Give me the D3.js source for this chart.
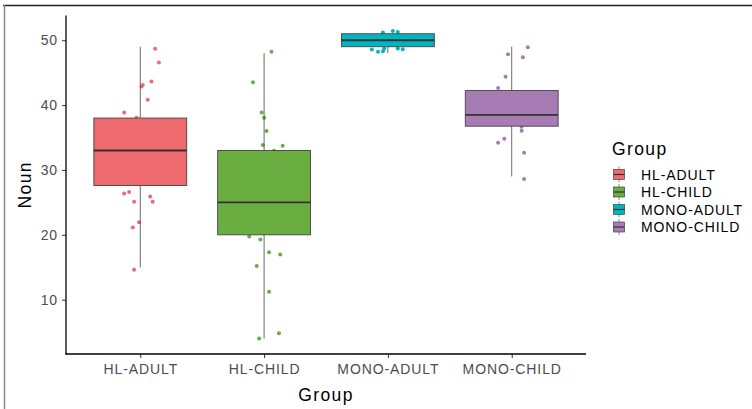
<!DOCTYPE html>
<html>
<head>
<meta charset="utf-8">
<script src="https://cdn.jsdelivr.net/npm/d3@7"></script>
<style>
  body { margin: 0; background: #fff; }
  svg { display: block; font-family: "Liberation Sans", Arial, sans-serif; }
</style>
</head>
<body>
<svg id="chart" width="752" height="409"></svg>
<script>
const groups = ["HL-ADULT", "HL-CHILD", "MONO-ADULT", "MONO-CHILD"];
const groupColors = ["#ef6a6e", "#6aae41", "#00b4c0", "#a77bb4"];

// box stats: [lower whisker, q1, median, q3, upper whisker]
const hlAdultBox = [15, 27.6, 33, 38, 49];
const hlChildBox = [4, 20, 25, 33, 48];
const monoAdultBox = [48, 49, 50, 51, 51];
const monoChildBox = [29, 36.75, 38.5, 42.25, 49];

// jittered points: y value and x jitter (in category units)
const hlAdultY = [48.67, 46.56, 43.64, 42.87, 43.08, 40.82, 38.87, 38.05, 26.36, 26.62, 25.9, 25.08, 25.08, 21.95, 21.13, 14.62];
const hlAdultJ = [0.12, 0.15, 0.09, 0.01, 0.02, 0.06, -0.13, -0.03, -0.13, -0.09, 0.08, 0.1, -0.05, -0.01, -0.06, -0.05];
const hlChildY = [48.21, 43.54, 38.87, 38.05, 36.0, 33.85, 33.74, 32.97, 19.74, 19.28, 17.33, 16.97, 15.18, 11.23, 4.82, 4.0];
const hlChildJ = [0.06, -0.09, -0.02, 0, 0.02, -0.01, 0.15, 0.08, -0.12, -0.03, 0.04, 0.13, -0.06, 0.04, 0.12, -0.04];
const monoAdultY = [51.18, 51.44, 51.28, 48.56, 48.21, 48.31, 48.72, 48.72, 48.62];
const monoAdultJ = [-0.04, 0.04, 0.08, -0.13, -0.08, -0.04, -0.03, 0.08, 0.12];
const monoChildY = [48.92, 47.85, 47.38, 44.36, 42.62, 36.67, 36.05, 34.82, 34.21, 32.67, 28.62];
const monoChildJ = [0.13, -0.03, 0.09, -0.05, -0.11, 0.08, 0.08, -0.06, -0.11, 0.1, 0.1];

const yTicks = [10, 20, 30, 40, 50];

const boxes = [hlAdultBox, hlChildBox, monoAdultBox, monoChildBox];
const pointYs = [hlAdultY, hlChildY, monoAdultY, monoChildY];
const pointJs = [hlAdultJ, hlChildJ, monoAdultJ, monoChildJ];

const svg = d3.select("#chart");
const plot = { left: 66, right: 586, top: 15.5, bottom: 354 };

// screenshot frame
svg.append("line").attr("x1", 3).attr("x2", 752).attr("y1", 5.5).attr("y2", 5.5).attr("stroke", "#222").attr("stroke-width", 1.5);
svg.append("line").attr("x1", 4.5).attr("x2", 4.5).attr("y1", 5).attr("y2", 409).attr("stroke", "#8a8a8a").attr("stroke-width", 1.5);

const allY = pointYs.flat().concat(boxes.flat());
const [yMin, yMax] = d3.extent(allY);
const pad = (yMax - yMin) * 0.05;
const y = d3.scaleLinear().domain([yMin - pad, yMax + pad]).range([plot.bottom, plot.top]);
const x = d3.scalePoint().domain(groups).range([plot.left, plot.right]).padding(0.6);
const step = x.step();
const boxW = step * 0.75;
const color = d3.scaleOrdinal().domain(groups).range(groupColors);

const points = [];
groups.forEach((g, i) => pointYs[i].forEach((v, k) => points.push({ g, v, j: pointJs[i][k] })));

// points first, boxes drawn over them
svg.append("g").selectAll("circle").data(points).join("circle")
  .attr("cx", d => x(d.g) + d.j * step)
  .attr("cy", d => y(d.v))
  .attr("r", 2)
  .attr("fill", d => color(d.g));

const boxG = svg.append("g").selectAll("g").data(groups).join("g");
boxG.append("line")
  .attr("x1", d => x(d)).attr("x2", d => x(d))
  .attr("y1", (d, i) => y(boxes[i][0])).attr("y2", (d, i) => y(boxes[i][4]))
  .attr("stroke", "#444").attr("stroke-width", 0.8);
boxG.append("rect")
  .attr("x", d => x(d) - boxW / 2).attr("width", boxW)
  .attr("y", (d, i) => y(boxes[i][3]))
  .attr("height", (d, i) => y(boxes[i][1]) - y(boxes[i][3]))
  .attr("fill", d => color(d))
  .attr("stroke", "#444").attr("stroke-width", 0.9);
boxG.append("line")
  .attr("x1", d => x(d) - boxW / 2).attr("x2", d => x(d) + boxW / 2)
  .attr("y1", (d, i) => y(boxes[i][2])).attr("y2", (d, i) => y(boxes[i][2]))
  .attr("stroke", "#333").attr("stroke-width", 1.8);

// axes
const yAxis = svg.append("g").attr("transform", `translate(${plot.left},0)`)
  .call(d3.axisLeft(y).tickValues(yTicks).tickSize(4).tickPadding(4));
const xAxis = svg.append("g").attr("transform", `translate(0,${plot.bottom})`)
  .call(d3.axisBottom(x).tickSize(4).tickPadding(6));
[yAxis, xAxis].forEach(a => {
  a.select(".domain").remove();
  a.selectAll(".tick line").attr("stroke", "#333").attr("stroke-width", 1);
  a.selectAll(".tick text").attr("fill", "#4d4d4d").attr("font-size", 14).attr("letter-spacing", 0.9)
    .attr("font-family", "Liberation Sans, Arial, sans-serif");
});
svg.append("line").attr("x1", plot.left).attr("x2", plot.left).attr("y1", plot.top).attr("y2", plot.bottom + 0.5).attr("stroke", "#000").attr("stroke-width", 1.3);
svg.append("line").attr("x1", plot.left - 0.5).attr("x2", plot.right).attr("y1", plot.bottom).attr("y2", plot.bottom).attr("stroke", "#000").attr("stroke-width", 1.3);

svg.append("text").attr("x", (plot.left + plot.right) / 2).attr("y", 401)
  .attr("text-anchor", "middle").attr("font-size", 17.5).attr("letter-spacing", 1.4).text("Group");
svg.append("text").attr("transform", `translate(31,${(plot.top + plot.bottom) / 2}) rotate(-90)`)
  .attr("text-anchor", "middle").attr("font-size", 17.5).attr("letter-spacing", 1.4).text("Noun");

// legend
const legend = svg.append("g").attr("transform", "translate(612,0)");
legend.append("text").attr("x", 0).attr("y", 155).attr("font-size", 17.5).attr("letter-spacing", 1.4).text("Group");
const item = legend.selectAll("g.item").data(groups).join("g").attr("class", "item")
  .attr("transform", (d, i) => `translate(0,${174.5 + i * 17.5})`);
item.append("line").attr("x1", 7).attr("x2", 7).attr("y1", -8).attr("y2", 8).attr("stroke", "#444").attr("stroke-width", 0.6);
item.append("rect").attr("x", 1.5).attr("y", -5).attr("width", 11).attr("height", 10)
  .attr("fill", d => color(d)).attr("stroke", "#444").attr("stroke-width", 0.7);
item.append("line").attr("x1", 1.5).attr("x2", 12.5).attr("y1", 0).attr("y2", 0).attr("stroke", "#333").attr("stroke-width", 1.2);
item.append("text").attr("x", 29).attr("y", 5).attr("font-size", 14).attr("letter-spacing", 0.9).text(d => d);
</script>
</body>
</html>
